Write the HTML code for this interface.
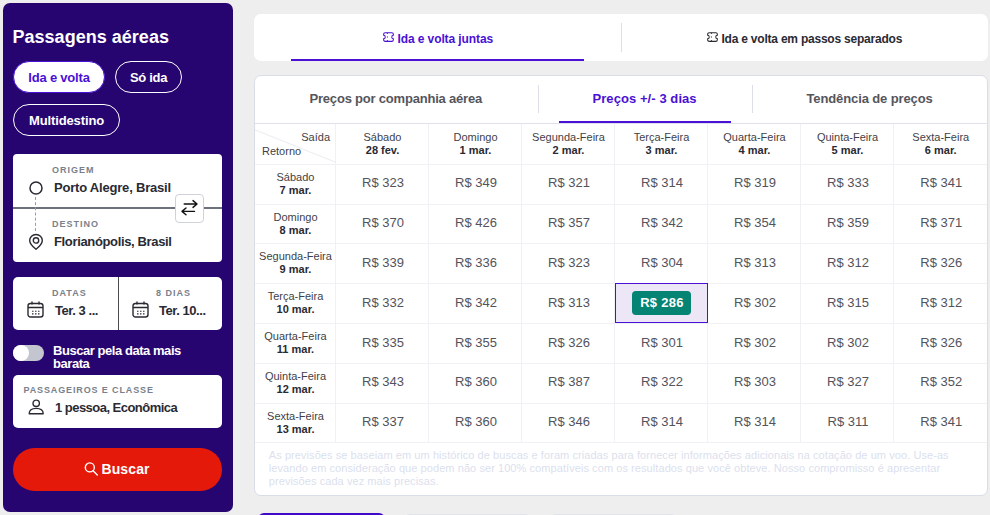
<!DOCTYPE html>
<html><head><meta charset="utf-8"><style>
*{box-sizing:border-box;margin:0;padding:0}
html,body{width:990px;height:515px;overflow:hidden;background:#eeeeee;font-family:"Liberation Sans",sans-serif;}
.abs{position:absolute}
#side{position:absolute;left:3px;top:3px;width:230px;height:509px;background:#270570;border-radius:7px;}
#title{position:absolute;left:9.5px;top:24px;font-size:18px;font-weight:bold;color:#fff;white-space:nowrap;letter-spacing:0.02px}
.pill{position:absolute;height:32px;border:1.5px solid #fff;border-radius:16px;color:#fff;font-weight:bold;font-size:13px;display:flex;align-items:center;justify-content:center;white-space:nowrap;letter-spacing:-0.3px}
.pill.sel{background:#fff;color:#4a10d6;border-color:#4a10d6;letter-spacing:-0.2px}
.box{position:absolute;left:13px;width:209px;background:#fff;border-radius:4px;}
.lbl{position:absolute;font-size:9px;font-weight:bold;letter-spacing:1.0px;color:#7a7f8c;white-space:nowrap}
.val{position:absolute;font-size:13px;font-weight:bold;color:#2a2a33;white-space:nowrap;letter-spacing:-0.2px}
svg{position:absolute;overflow:visible}
#card1{position:absolute;left:254px;top:14px;width:734px;height:47px;background:#fff;border-radius:7px;}
#card2{position:absolute;left:254px;top:75px;width:734px;height:420.500px;background:#fff;border-radius:7px;border:1px solid #d9dde8;}
.tab{position:absolute;font-size:13px;font-weight:bold;white-space:nowrap;letter-spacing:-0.1px}
.vdiv{position:absolute;width:1px;background:#dcdfe7}
.ul{position:absolute;height:2px;background:#4a10d6}
table{position:absolute;left:255px;top:123.5px;width:731.5px;border-collapse:collapse;table-layout:fixed}
td{border:1px solid #f0f1f5;text-align:center;vertical-align:middle;height:39.800px;font-size:13px;color:#53535c;padding:0 0 2.6px 2px}
tr:first-child td{height:40.800px}
td.h{font-size:11px;color:#3f3f48;line-height:13px;padding:0 0 0.900px 1px}
tr:first-child td.h{line-height:13.400px;padding:1.400px 0 0 1px}
td.h b{color:#2a2a33}
tr td:first-child{border-left:none}
tr td:last-child{border-right:none}
tr:first-child td{border-top:none}
tr:last-child td{border-bottom:1px solid #f0f1f5}
#tabline{position:absolute;left:255px;top:123px;width:732px;height:1px;background:#dfe2ec}
#sel{position:absolute;left:615px;top:283px;width:93px;height:40px;border:1px solid #4a10d6;background:#ede6f7}
#badge{position:absolute;left:632px;top:291px;width:59px;height:24px;border-radius:4px;background:#058373;color:#fff;font-weight:bold;font-size:13px;display:flex;align-items:center;justify-content:center;padding:0 0 2px 1px;letter-spacing:0.3px}
#disc{position:absolute;left:268.800px;top:449.400px;width:700px;font-size:11px;line-height:12.600px;color:#dcdfee;white-space:nowrap;letter-spacing:0.07px}
</style></head><body>
<div id="side">
 <div id="title">Passagens aéreas</div>
 <div class="pill sel" style="left:10px;top:58px;width:92px">Ida e volta</div>
 <div class="pill" style="left:112px;top:58px;width:67px">Só ida</div>
 <div class="pill" style="left:10px;top:101px;width:107px;letter-spacing:-0.12px">Multidestino</div>

 <div class="box" style="left:10px;top:151px;height:108px">
  <div class="lbl" style="left:39px;top:11px">ORIGEM</div>
  <div class="val" style="left:41px;top:26px">Porto Alegre, Brasil</div>
  <div class="abs" style="left:0;top:53px;width:209px;height:2px;background:#6d717c"></div>
  <div class="lbl" style="left:39px;top:65px">DESTINO</div>
  <div class="val" style="left:41px;top:80px;letter-spacing:-0.35px">Florianópolis, Brasil</div>
  <svg style="left:15px;top:26px" width="16" height="16" viewBox="0 0 16 16"><circle cx="8" cy="8" r="6" fill="none" stroke="#2a2a33" stroke-width="1.5"/></svg>
  <div class="abs" style="left:22px;top:43px;width:0;height:34px;border-left:1px dashed #9a9da6"></div>
  <svg style="left:15px;top:79px" width="16" height="18" viewBox="0 0 16 18"><path d="M8 1.500c-3.600 0-6.300 2.600-6.300 5.900 0 3.300 3.400 6.500 6.300 8.900 2.900-2.400 6.300-5.600 6.300-8.900 0-3.300-2.700-5.900-6.300-5.900z" fill="none" stroke="#2a2a33" stroke-width="1.400" stroke-linejoin="round"/><circle cx="8" cy="7.400" r="2.700" fill="none" stroke="#2a2a33" stroke-width="1.400"/></svg>
  <div class="abs" style="left:162px;top:40px;width:29px;height:29px;background:#fff;border:1px solid #cfd2da;border-radius:4px"></div>
  <svg style="left:0;top:0" width="209" height="108" viewBox="0 0 209 108" fill="none" stroke="#111" stroke-width="1.4" stroke-linecap="round" stroke-linejoin="round"><path d="M171.200 50H183.800M180 46.600L184 50 180 53.400M181.500 57.400H169.200M173 54L169 57.400 173 60.800"/></svg>
 </div>

 <div class="box" style="left:10px;top:274px;height:53px;border-radius:5px">
  <div class="lbl" style="left:39px;top:11px">DATAS</div>
  <div class="val" style="left:42px;top:26px;letter-spacing:-0.45px">Ter. 3 ...</div>
  <div class="abs" style="left:105px;top:0;width:1px;height:53px;background:#4a4a55"></div>
  <div class="lbl" style="left:143px;top:11px">8 DIAS</div>
  <div class="val" style="left:146px;top:26px;letter-spacing:-0.45px">Ter. 10...</div>
  <svg style="left:14px;top:24px" width="17" height="17" viewBox="0 0 17 17" fill="none" stroke="#2a2a33" stroke-width="1.400"><rect x="1" y="2.500" width="15" height="13.500" rx="2.500"/><path d="M1 6.500h15M5 .5v3M12 .5v3"/><path d="M5 10.200h7.500M5 12.900h7.500" stroke-dasharray="1.500 1.500" stroke-width="1.100"/></svg>
  <svg style="left:119px;top:24px" width="17" height="17" viewBox="0 0 17 17" fill="none" stroke="#2a2a33" stroke-width="1.400"><rect x="1" y="2.500" width="15" height="13.500" rx="2.500"/><path d="M1 6.500h15M5 .5v3M12 .5v3"/><path d="M5 10.200h7.500M5 12.900h7.500" stroke-dasharray="1.500 1.500" stroke-width="1.100"/></svg>
 </div>

 <div class="abs" style="left:10px;top:342px;width:31px;height:16px;border-radius:8px;background:#c3c6cf"></div>
 <div class="abs" style="left:10px;top:342px;width:16px;height:16px;border-radius:8px;background:#fff"></div>
 <div class="abs" style="left:50px;top:341px;font-size:13px;line-height:13px;font-weight:bold;color:#fff;letter-spacing:-0.45px;white-space:nowrap">Buscar pela data mais<br>barata</div>

 <div class="box" style="left:10px;top:371.5px;height:53px;border-radius:5px">
  <div class="lbl" style="left:10.5px;top:10.500px;letter-spacing:0.87px">PASSAGEIROS E CLASSE</div>
  <div class="val" style="left:42px;top:25.500px;letter-spacing:-0.53px">1 pessoa, Econômica</div>
  <svg style="left:15px;top:24.500px" width="16" height="16" viewBox="0 0 16 16" fill="none" stroke="#2a2a33" stroke-width="1.400"><circle cx="8.200" cy="4.300" r="3.200"/><path d="M1.200 14.700c0-3.400 2.600-5.300 7-5.300s7 1.900 7 5.300z" stroke-linejoin="round"/></svg>
 </div>

 <div class="abs" style="left:10px;top:445px;width:209px;height:43px;border-radius:22px;background:#e5190a"></div>
 <svg style="left:81px;top:459px" width="15" height="15" viewBox="0 0 15 15" fill="none" stroke="#fff" stroke-width="1.400" stroke-linecap="round"><circle cx="5.800" cy="5.400" r="4.500"/><path d="M9.100 8.800L13.300 13"/></svg>
 <div class="abs" style="left:98.500px;top:458px;font-size:14px;font-weight:bold;color:#fff;letter-spacing:0.1px">Buscar</div>
</div>

<div id="card1"></div>
<div class="ul" style="left:291px;top:59px;width:293px"></div>
<div class="vdiv" style="left:621px;top:23px;height:29px"></div>
<div class="tab" style="left:397.500px;top:32px;color:#4a10d6;font-size:12px;letter-spacing:-0.1px">Ida e volta juntas</div>
<div class="tab" style="left:721.500px;top:32px;color:#2a2a33;font-size:12px;letter-spacing:-0.22px">Ida e volta em passos separados</div>
<svg style="left:383px;top:31.900px" width="11" height="10" viewBox="0 0 11 10" fill="none" stroke="#4a10d6" stroke-width="1.050"><path d="M2.300 .65H8.700Q10.350 .65 10.350 2.300V3.300A1.600 1.700 0 0 0 10.350 6.700V7.700Q10.350 9.350 8.700 9.350H2.300Q.65 9.350 .65 7.700V6.700A1.600 1.700 0 0 0 .65 3.300V2.300Q.65 .65 2.300 .65Z"/><path d="M4.400 .8V9.200" stroke-dasharray="1.200 2.400" stroke-width="0.900"/></svg>
<svg style="left:707px;top:31.900px" width="11" height="10" viewBox="0 0 11 10" fill="none" stroke="#2a2a33" stroke-width="1.050"><path d="M2.300 .65H8.700Q10.350 .65 10.350 2.300V3.300A1.600 1.700 0 0 0 10.350 6.700V7.700Q10.350 9.350 8.700 9.350H2.300Q.65 9.350 .65 7.700V6.700A1.600 1.700 0 0 0 .65 3.300V2.300Q.65 .65 2.300 .65Z"/><path d="M4.400 .8V9.200" stroke-dasharray="1.200 2.400" stroke-width="0.900"/></svg>

<div id="card2"></div>
<div class="tab" style="left:309.500px;top:91px;color:#55555c;letter-spacing:-0.2px">Preços por companhia aérea</div>
<div class="tab" style="left:592.500px;top:91px;color:#4a10d6;letter-spacing:0.07px">Preços +/- 3 dias</div>
<div class="tab" style="left:806.500px;top:91px;color:#55555c;letter-spacing:-0.12px">Tendência de preços</div>
<div class="vdiv" style="left:538px;top:85px;height:28px"></div>
<div class="vdiv" style="left:752px;top:85px;height:28px"></div>
<div class="ul" style="left:559px;top:121px;width:171.500px;height:2px"></div>

<div id="tabline"></div>
<table>
<colgroup><col style="width:80.500px"><col><col><col><col><col><col><col></colgroup>
<tr><td class="h" style="line-height:14.200px;padding:0.600px 0 0 0"><div style="text-align:right;padding-right:5px">Saída</div><div style="text-align:left;padding-left:7px">Retorno</div></td>
<td class="h">Sábado<br><b>28 fev.</b></td><td class="h">Domingo<br><b>1 mar.</b></td><td class="h">Segunda-Feira<br><b>2 mar.</b></td><td class="h">Terça-Feira<br><b>3 mar.</b></td><td class="h">Quarta-Feira<br><b>4 mar.</b></td><td class="h">Quinta-Feira<br><b>5 mar.</b></td><td class="h">Sexta-Feira<br><b>6 mar.</b></td></tr>
<tr><td class="h">Sábado<br><b>7 mar.</b></td><td>R$ 323</td><td>R$ 349</td><td>R$ 321</td><td>R$ 314</td><td>R$ 319</td><td>R$ 333</td><td>R$ 341</td></tr>
<tr><td class="h">Domingo<br><b>8 mar.</b></td><td>R$ 370</td><td>R$ 426</td><td>R$ 357</td><td>R$ 342</td><td>R$ 354</td><td>R$ 359</td><td>R$ 371</td></tr>
<tr><td class="h">Segunda-Feira<br><b>9 mar.</b></td><td>R$ 339</td><td>R$ 336</td><td>R$ 323</td><td>R$ 304</td><td>R$ 313</td><td>R$ 312</td><td>R$ 326</td></tr>
<tr><td class="h">Terça-Feira<br><b>10 mar.</b></td><td>R$ 332</td><td>R$ 342</td><td>R$ 313</td><td></td><td>R$ 302</td><td>R$ 315</td><td>R$ 312</td></tr>
<tr><td class="h">Quarta-Feira<br><b>11 mar.</b></td><td>R$ 335</td><td>R$ 355</td><td>R$ 326</td><td>R$ 301</td><td>R$ 302</td><td>R$ 302</td><td>R$ 326</td></tr>
<tr><td class="h">Quinta-Feira<br><b>12 mar.</b></td><td>R$ 343</td><td>R$ 360</td><td>R$ 387</td><td>R$ 322</td><td>R$ 303</td><td>R$ 327</td><td>R$ 352</td></tr>
<tr><td class="h">Sexta-Feira<br><b>13 mar.</b></td><td>R$ 337</td><td>R$ 360</td><td>R$ 346</td><td>R$ 314</td><td>R$ 314</td><td>R$ 311</td><td>R$ 341</td></tr>
</table>
<svg style="left:255px;top:124px" width="81" height="40"><line x1="0" y1="5.800" x2="80.500" y2="38.200" stroke="#ececf1" stroke-width="1"/></svg>
<div id="sel"></div>
<div id="badge">R$ 286</div>

<div id="disc">As previsões se baseiam em um histórico de buscas e foram criadas para fornecer informações adicionais na cotação de um voo. Use-as<br>levando em consideração que podem não ser 100% compatíveis com os resultados que você obteve. Nosso compromisso é apresentar<br>previsões cada vez mais precisas.</div>

<div class="abs" style="left:257.500px;top:513.300px;width:127.500px;height:20px;border-radius:6px;background:#4209c8"></div>
<div class="abs" style="left:403.500px;top:513.700px;width:127px;height:20px;border-radius:6px;background:#e1e2ea"></div>
<div class="abs" style="left:550px;top:513.700px;width:127px;height:20px;border-radius:6px;background:#e1e2ea"></div>
</body></html>
